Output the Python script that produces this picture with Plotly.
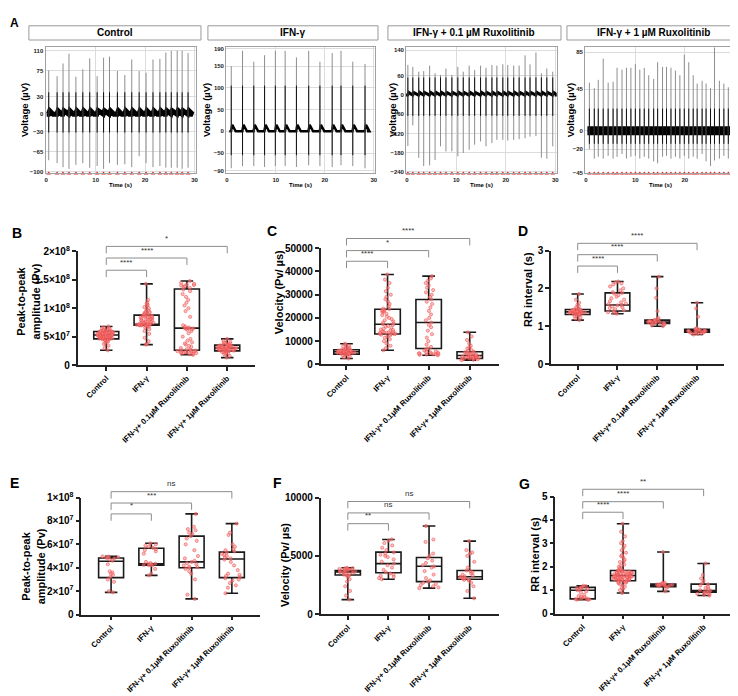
import plotly.graph_objects as go

W, H = 738, 696
FONT = "Liberation Sans, Arial, sans-serif"

# ---------------- Panel A data (MEA traces) ----------------
a_titles = ["Control", "IFN-γ", "IFN-γ + 0.1 µM Ruxolitinib", "IFN-γ + 1 µM Ruxolitinib"]
a_xticks = [0, 10, 20, 30]
ctrl_yticks = [110, 75, 30, 0, -30, -65, -100]
ifn_yticks = [190, 150, 100, 50, 0, -50, -90]
rux01_yticks = [140, 60, 0, -60, -120, -180, -240]
rux1_yticks = [85, 45, 0, -20, -45]

ctrl_t = [0.5, 2.2, 3.4, 4.6, 6.0, 7.4, 8.8, 10.3, 11.6, 12.8, 14.4, 15.9, 17.3, 18.8,
          20.2, 21.6, 23.0, 24.2, 25.3, 26.5, 27.5, 28.7]
ctrl_up = [76, 66, 88, 105, 65, 78, 97, 66, 98, 100, 75, 68, 95, 75, 72, 95, 96, 107,
           110, 110, 110, 106]
ctrl_down = [-80, -85, -92, -95, -88, -85, -93, -90, -95, -85, -88, -87, -92, -73, -85,
             -92, -90, -93, -93, -93, -95, -93]

ifn_t = [0.9, 3.2, 5.5, 7.7, 9.9, 11.9, 14.2, 16.7, 19.0, 21.5, 23.3, 25.7, 28.2]
ifn_up = [150, 185, 160, 175, 185, 185, 170, 185, 160, 180, 185, 160, 155]
ifn_down = [-85, -80, -80, -82, -80, -80, -82, -78, -80, -82, -78, -80, -85]

rux01_t = [0.2, 1.2, 2.4, 3.4, 4.6, 5.7, 6.8, 7.9, 9.1, 10.3, 11.4, 12.6, 13.7, 14.9,
           16.0, 17.2, 18.2, 19.4, 20.4, 21.6, 22.7, 23.9, 24.9, 26.1, 27.2, 28.3, 29.5]
rux01_up = [94, 88, 73, 75, 92, 68, 63, 83, 63, 88, 73, 92, 78, 92, 85, 94, 92, 96, 94,
            92, 92, 124, 96, 133, 68, 83, 73]
rux01_down = [-159, -95, -196, -222, -220, -203, -160, -176, -176, -191, -181, -171, -155,
              -145, -160, -150, -140, -140, -142, -140, -138, -135, -130, -128, -196, -199, -160]

rux1_t = [0.7, 1.7, 2.5, 3.5, 4.5, 5.5, 6.3, 7.3, 8.2, 9.1, 10.0, 10.9, 11.8, 12.7, 13.7,
          14.5, 15.5, 16.3, 17.2, 18.1, 19.0, 19.9, 20.8, 21.7, 22.5, 23.5, 24.3, 25.2,
          26.0, 27.0, 27.9, 28.8, 29.7]
rux1_up = [52, 46, 55, 78, 52, 53, 68, 66, 68, 68, 72, 66, 68, 60, 56, 74, 69, 69, 68, 65,
           60, 82, 74, 60, 51, 54, 51, 46, 95, 54, 51, 47, 84]
rux1_down = [-20, -30, -28, -30, -27, -30, -28, -25, -30, -28, -27, -30, -28, -30, -33, -35,
             -28, -27, -30, -28, -30, -27, -30, -28, -30, -25, -33, -38, -32, -30, -27, -30, -25]

# height of the slow repolarisation bump that follows each spike (IFN-γ trace shows it)
a_bump = [6, 15, 8, 0]

a_data = [(ctrl_t, ctrl_up, ctrl_down, ctrl_yticks),
          (ifn_t, ifn_up, ifn_down, ifn_yticks),
          (rux01_t, rux01_up, rux01_down, rux01_yticks),
          (rux1_t, rux1_up, rux1_down, rux1_yticks)]
a_marks = [True, False, True, True]

# ---------------- Panels B-G data ----------------
cats = ["Control", "IFN-γ", "IFN-γ+ 0.1μM Ruxolitinib", "IFN-γ+ 1μM Ruxolitinib"]

# B: peak-to-peak amplitude (units of 1e7 Pv)
B_pts = [
    [2.6, 3.0, 3.4, 3.7, 3.9, 4.1, 4.2, 4.3, 4.4, 4.5, 4.5, 4.6, 4.6, 4.7, 4.7, 4.8, 4.8, 4.9,
     4.9, 5.0, 5.0, 5.0, 5.1, 5.1, 5.1, 5.2, 5.2, 5.2, 5.3, 5.3, 5.3, 5.4, 5.4, 5.4, 5.5, 5.5,
     5.5, 5.6, 5.6, 5.7, 5.7, 5.8, 5.8, 5.9, 5.9, 6.0, 6.0, 6.1, 6.2, 6.3, 6.4, 6.5, 6.6, 6.8,
     4.65, 4.75, 4.85, 5.05, 5.15, 5.25, 5.35, 5.45, 5.55, 5.65, 5.75, 5.85, 6.05, 6.15],
    [3.6, 3.7, 4.2, 4.8, 5.5, 6.0, 6.3, 6.6, 6.8, 6.9, 7.0, 7.0, 7.0, 7.1, 7.1, 7.1, 7.2, 7.2,
     7.3, 7.4, 7.5, 7.6, 7.7, 7.8, 7.9, 8.0, 8.1, 8.2, 8.3, 8.4, 8.5, 8.6, 8.7, 8.8, 8.9, 9.0,
     9.2, 9.4, 9.6, 9.8, 10.0, 10.2, 10.4, 10.6, 10.8, 11.0, 11.5, 14.3, 6.95, 7.05, 7.15,
     7.25, 7.35, 7.45, 7.55, 7.65, 8.05, 8.25, 8.45, 8.65, 8.85, 9.1, 9.3],
    [1.8, 1.9, 2.0, 2.1, 2.2, 2.3, 2.4, 2.5, 2.6, 2.7, 2.8, 3.0, 3.2, 3.4, 3.6, 3.8, 4.0, 4.3,
     4.6, 5.0, 5.6, 6.0, 6.2, 6.4, 6.5, 6.6, 6.8, 7.0, 8.5, 9.5, 10.0, 10.5, 11.0, 11.5, 12.0,
     12.5, 13.0, 13.3, 13.6, 13.9, 14.1, 14.3, 14.5, 14.8, 2.05, 2.15, 2.25, 2.35, 2.45, 2.55,
     6.3, 6.45, 6.55, 13.8, 14.0, 14.2],
    [1.3, 1.6, 1.9, 2.1, 2.3, 2.4, 2.5, 2.5, 2.6, 2.6, 2.7, 2.7, 2.8, 2.8, 2.9, 2.9, 3.0, 3.0,
     3.0, 3.1, 3.1, 3.2, 3.2, 3.3, 3.3, 3.4, 3.4, 3.5, 3.5, 3.6, 3.7, 3.9, 4.1, 4.3, 4.6,
     2.55, 2.65, 2.75, 2.85, 2.95, 3.05, 3.15, 3.25, 3.35, 3.45, 2.2, 2.0, 3.8, 4.0]]
B_min = [2.6, 3.6, 1.8, 1.3]
B_q1 = [4.6, 7.0, 2.6, 2.5]
B_med = [5.3, 7.1, 6.5, 3.0]
B_q3 = [5.9, 8.8, 13.4, 3.5]
B_max = [6.8, 14.3, 14.8, 4.6]
B_yticks = [0, 5, 10, 15, 20]
B_yticktext = ["0", "5×10<sup>7</sup>", "1×10<sup>8</sup>", "1.5×10<sup>8</sup>", "2×10<sup>8</sup>"]
B_sig = [(1, 16.7, "****"), (2, 18.85, "****"), (3, 20.9, "*")]

# C: velocity (Pv/µs)
C_pts = [
    [2500, 3000, 3500, 3900, 4200, 4400, 4500, 4600, 4700, 4800, 4900, 5000, 5000, 5100, 5200,
     5300, 5400, 5400, 5500, 5600, 5700, 5800, 5900, 6000, 6100, 6200, 6300, 6500, 6800, 7000,
     7300, 7600, 8000, 8400, 8900, 4650, 4850, 5050, 5250, 5450, 5650, 5850, 6050],
    [6100, 7000, 8000, 9000, 10000, 10800, 11500, 12000, 12500, 13000, 13100, 13300, 13500,
     13800, 14000, 14300, 14600, 15000, 15400, 15800, 16200, 16600, 17000, 17300, 17600, 18000,
     18500, 19000, 19500, 20000, 20600, 21200, 21800, 22400, 23000, 23500, 24000, 25000, 26000,
     27000, 28000, 29000, 30000, 31500, 33000, 35000, 36500, 38700, 12800, 13200, 13600, 14100,
     14800, 22800, 23300, 23800],
    [3900, 4100, 4300, 4500, 4700, 5000, 5300, 5600, 6000, 6500, 6800, 7500, 8500, 10000,
     11500, 13000, 14500, 16000, 17000, 18000, 19000, 20000, 21500, 23000, 24500, 26000, 27000,
     28000, 29000, 30000, 31000, 32000, 33000, 34000, 35000, 36000, 37000, 38000, 4200, 4400,
     4600, 4800, 5200],
    [1800, 2000, 2200, 2400, 2500, 2600, 2800, 3000, 3100, 3300, 3500, 3600, 3800, 4000, 4200,
     4400, 4600, 4800, 5000, 5200, 5400, 5800, 6200, 6800, 7400, 8000, 9000, 10500, 12000, 13800,
     2300, 2700, 2900, 3200, 3400, 3700]]
C_min = [2500, 6100, 3900, 1800]
C_q1 = [4400, 13100, 6800, 2500]
C_med = [5400, 17300, 18000, 3800]
C_q3 = [6300, 23700, 27900, 5400]
C_max = [8900, 38700, 38000, 13800]
C_yticks = [0, 10000, 20000, 30000, 40000, 50000]
C_yticktext = [str(v) for v in C_yticks]
C_sig = [(1, 44400, "****"), (2, 49000, "*"), (3, 54200, "****")]

# D: RR interval (s)
D_pts = [
    [1.16, 1.2, 1.23, 1.26, 1.28, 1.3, 1.31, 1.32, 1.33, 1.34, 1.35, 1.35, 1.36, 1.36, 1.37,
     1.37, 1.38, 1.38, 1.39, 1.39, 1.4, 1.4, 1.41, 1.42, 1.43, 1.44, 1.45, 1.47, 1.5, 1.53,
     1.57, 1.62, 1.7, 1.85, 1.355, 1.365, 1.375, 1.385, 1.395, 1.33, 1.42],
    [1.33, 1.35, 1.37, 1.4, 1.42, 1.45, 1.48, 1.5, 1.52, 1.55, 1.56, 1.58, 1.6, 1.63, 1.66,
     1.7, 1.74, 1.78, 1.82, 1.86, 1.88, 1.9, 1.95, 2.0, 2.05, 2.1, 2.13, 2.16, 2.18],
    [1.0, 1.02, 1.04, 1.06, 1.07, 1.08, 1.09, 1.1, 1.1, 1.11, 1.11, 1.12, 1.12, 1.13, 1.14,
     1.15, 1.16, 1.17, 1.19, 1.22, 1.4, 1.75, 2.0, 2.31],
    [0.78, 0.8, 0.81, 0.82, 0.83, 0.84, 0.85, 0.85, 0.86, 0.86, 0.87, 0.87, 0.88, 0.88, 0.89,
     0.9, 0.9, 0.91, 0.92, 0.93, 0.95, 1.25, 1.47, 1.62]]
D_min = [1.16, 1.33, 1.0, 0.78]
D_q1 = [1.31, 1.40, 1.07, 0.84]
D_med = [1.38, 1.56, 1.11, 0.88]
D_q3 = [1.44, 1.88, 1.16, 0.92]
D_max = [1.85, 2.18, 2.31, 1.62]
D_yticks = [0, 1, 2, 3]
D_yticktext = [str(v) for v in D_yticks]
D_sig = [(1, 2.59, "****"), (2, 2.89, "****"), (3, 3.19, "****")]

# E: peak-to-peak amplitude (units of 1e7 Pv)
E_pts = [
    [1.9, 2.0, 2.8, 3.0, 3.2, 3.4, 3.5, 3.6, 3.7, 4.3, 4.6, 4.7, 4.8, 4.85, 4.9, 4.95, 4.97, 4.9],
    [3.35, 3.5, 3.9, 4.2, 4.22, 4.25, 4.3, 4.32, 4.35, 4.4, 4.5, 5.2, 5.4, 5.5, 5.6, 5.7, 5.8,
     5.9, 6.0, 6.09],
    [1.34, 1.7, 3.0, 3.5, 3.7, 3.9, 4.0, 4.05, 4.1, 4.2, 4.3, 4.4, 4.5, 4.6, 4.8, 5.0, 5.5, 6.0,
     6.3, 6.5, 6.7, 6.9, 7.0, 7.2, 7.3, 7.5, 8.6],
    [1.82, 2.3, 2.5, 2.7, 2.9, 3.0, 3.1, 3.2, 3.3, 3.4, 3.5, 3.8, 4.2, 4.5, 4.7, 4.8, 4.9, 5.0,
     5.1, 5.2, 5.3, 5.4, 5.5, 5.6, 5.8, 6.0, 6.8, 7.0, 7.77]]
E_min = [1.9, 3.35, 1.34, 1.82]
E_q1 = [3.16, 4.22, 4.0, 3.16]
E_med = [4.55, 4.33, 4.5, 4.75]
E_q3 = [4.83, 5.67, 6.7, 5.34]
E_max = [4.97, 6.09, 8.6, 7.77]
E_yticks = [0, 2, 4, 6, 8, 10]
E_yticktext = ["0", "2×10<sup>7</sup>", "4×10<sup>7</sup>", "6×10<sup>7</sup>",
               "8×10<sup>7</sup>", "1×10<sup>8</sup>"]
E_sig = [(1, 8.6, "*"), (2, 9.53, "***"), (3, 10.5, "ns")]

# F: velocity (Pv/µs)
F_pts = [
    [1260, 1600, 2000, 2400, 2800, 3000, 3200, 3300, 3350, 3400, 3450, 3500, 3550, 3600, 3620,
     3650, 3700, 3720, 3750, 3780, 3800, 3830, 3850, 3880, 3900, 3930, 3950, 3980],
    [3000, 3100, 3200, 3300, 3400, 3500, 3600, 3800, 4000, 4200, 4340, 4500, 4700, 4900, 5000,
     5100, 5200, 5300, 5500, 5700, 5900, 6100, 6300, 6410],
    [2240, 2300, 2400, 2500, 2600, 2700, 2800, 2900, 3100, 3400, 3700, 4000, 4100, 4200, 4400,
     4600, 4800, 5000, 5200, 6200, 6400, 7560],
    [1370, 2000, 2400, 2700, 2900, 2950, 3000, 3050, 3100, 3150, 3200, 3250, 3300, 3400, 3500,
     3600, 3700, 3750, 4000, 4500, 5000, 5200, 5300, 5500, 6270]]
F_min = [1260, 3000, 2240, 1370]
F_q1 = [3360, 3560, 2800, 3000]
F_med = [3620, 4340, 4120, 3220]
F_q3 = [3750, 5320, 4870, 3750]
F_max = [3980, 6410, 7560, 6270]
F_yticks = [0, 5000, 10000]
F_yticktext = [str(v) for v in F_yticks]
F_sig = [(1, 7760, "**"), (2, 8680, "ns"), (3, 9660, "ns")]

# G: RR interval (s)
G_pts = [
    [0.59, 0.6, 0.61, 0.62, 0.63, 0.65, 0.68, 0.7, 0.72, 0.75, 0.8, 0.9, 0.95, 1.0, 1.02, 1.05,
     1.08, 1.1, 1.12, 1.15, 1.17, 1.19],
    [0.88, 1.0, 1.05, 1.1, 1.15, 1.2, 1.25, 1.3, 1.32, 1.35, 1.38, 1.4, 1.42, 1.44, 1.46, 1.48,
     1.5, 1.52, 1.54, 1.56, 1.58, 1.6, 1.62, 1.64, 1.66, 1.68, 1.7, 1.72, 1.74, 1.76, 1.78, 1.8,
     1.82, 1.84, 1.86, 1.9, 1.95, 2.0, 2.1, 2.2, 2.3, 2.4, 2.5, 2.6, 2.7, 2.8, 2.9, 3.0, 3.1,
     3.3, 3.5, 3.84, 1.45, 1.5, 1.55, 1.6, 1.65, 1.7, 1.75, 1.8, 1.48, 1.58, 1.68, 1.36, 1.62,
     1.43, 1.53, 1.63, 1.73, 1.83, 1.41, 1.51, 1.61, 1.71, 1.47, 1.57, 1.67, 2.05, 2.25, 2.45],
    [0.95, 1.1, 1.15, 1.17, 1.19, 1.2, 1.21, 1.22, 1.23, 1.23, 1.24, 1.25, 1.25, 1.26, 1.27,
     1.28, 1.3, 1.32, 2.63],
    [0.77, 0.8, 0.83, 0.85, 0.88, 0.9, 0.92, 0.95, 0.98, 1.0, 1.05, 1.1, 1.15, 1.2, 1.25, 1.3,
     1.4, 1.5, 1.65, 2.14]]
G_min = [0.59, 0.88, 0.95, 0.77]
G_q1 = [0.63, 1.40, 1.15, 0.91]
G_med = [1.0, 1.63, 1.23, 0.98]
G_q3 = [1.12, 1.84, 1.26, 1.26]
G_max = [1.19, 3.84, 2.63, 2.14]
G_yticks = [0, 1, 2, 3, 4, 5]
G_yticktext = [str(v) for v in G_yticks]
G_sig = [(1, 4.33, "****"), (2, 4.78, "****"), (3, 5.31, "**")]

# ---------------- helpers ----------------
def fx(px):
    return px / W


def fy(py):
    return 1 - py / H


fig = go.Figure()
layout = dict(width=W, height=H, margin=dict(l=0, r=0, t=0, b=0),
              paper_bgcolor="white", plot_bgcolor="white", showlegend=False,
              boxmode="overlay", font=dict(family=FONT, color="black"))
annotations = []
shapes = []

# ---------------- Panel A ----------------
a_px = [(36.7, 188.0), (218.3, 368.3), (399.3, 550.7), (579.3, 730.7)]
a_py = (33.0, 161.5)
a_yr = [(-103, 116), (-97, 193), (-245, 149), (-46, 90)]
a_core = [(-32, 38), (-55, 105), (-65, 55), (-14, 24)]
a_band = [5, 2.5, 3, 9]
a_box = [(20, 193), (200, 371), (381, 555), (561, 736)]
a_ylab_x = [15, 198, 385, 564]

for i in range(4):
    n = i + 1
    xa, ya = "x%d" % n, "y%d" % n
    times, ups, downs, yt = a_data[i]
    layout["xaxis%d" % n] = dict(domain=[fx(a_px[i][0]), fx(a_px[i][1])], anchor=ya,
                                 range=[-0.15, 30.3], tickvals=a_xticks, showgrid=True,
                                 gridcolor="#dcdcdc", gridwidth=1, zeroline=False,
                                 showline=True, mirror=True, linecolor="#a0a0a0", linewidth=1,
                                 ticks="", tickfont=dict(size=6, weight="bold", color="#222"))
    layout["yaxis%d" % n] = dict(domain=[fy(a_py[1]), fy(a_py[0])], anchor=xa,
                                 range=list(a_yr[i]), tickvals=yt, showgrid=True,
                                 gridcolor="#dcdcdc", gridwidth=1, zeroline=False,
                                 showline=True, mirror=True, linecolor="#a0a0a0", linewidth=1,
                                 ticks="", tickfont=dict(size=6, weight="bold", color="#222"))
    # baseline band (with a small bump after every spike)
    bx, by = [times[0] - 0.4], [0]
    for t in times:
        bx += [t - 0.05, t + 0.2, t + 0.9]
        by += [0, a_bump[i], 0]
    bx.append(times[-1] + 0.4)
    by.append(0)
    fig.add_trace(go.Scatter(x=bx, y=by, mode="lines",
                             line=dict(color="black", width=a_band[i]), xaxis=xa, yaxis=ya,
                             hoverinfo="skip"))
    # full spikes (grey) and their dark core
    sx, sy, cx, cy = [], [], [], []
    lo, hi = a_core[i]
    for t, u, d in zip(times, ups, downs):
        sx += [t, t, None]
        sy += [d, u, None]
        cx += [t, t, None]
        cy += [max(d, lo), min(u, hi), None]
    fig.add_trace(go.Scatter(x=sx, y=sy, mode="lines", line=dict(color="#8e8e8e", width=1),
                             xaxis=xa, yaxis=ya, hoverinfo="skip"))
    fig.add_trace(go.Scatter(x=cx, y=cy, mode="lines", line=dict(color="#111", width=1),
                             xaxis=xa, yaxis=ya, hoverinfo="skip"))
    if a_marks[i]:
        fig.add_trace(go.Scatter(x=times, y=[a_yr[i][0]] * len(times), mode="markers",
                                 marker=dict(symbol="triangle-up", size=4, color="#e02020"),
                                 cliponaxis=False, xaxis=xa, yaxis=ya, hoverinfo="skip"))
    # title box
    shapes.append(dict(type="rect", xref="paper", yref="paper", x0=fx(a_box[i][0]),
                       x1=fx(a_box[i][1]), y0=fy(25.5), y1=fy(11), line=dict(color="#9a9a9a", width=1),
                       fillcolor="white"))
    annotations.append(dict(x=fx((a_box[i][0] + a_box[i][1]) / 2), y=fy(18.3), xref="paper",
                            yref="paper", text=a_titles[i], showarrow=False,
                            font=dict(size=10, weight="bold"), xanchor="center", yanchor="middle"))
    annotations.append(dict(x=fx(a_ylab_x[i]), y=fy(97), xref="paper", yref="paper",
                            text="Voltage (µV)", textangle=-90, showarrow=False,
                            font=dict(size=9.5, weight="bold"), xanchor="center", yanchor="middle"))
    annotations.append(dict(x=fx((a_px[i][0] + a_px[i][1]) / 2), y=fy(173.5), xref="paper",
                            yref="paper", text="Time (s)", showarrow=False,
                            font=dict(size=6, weight="bold"), xanchor="center", yanchor="middle"))

# ---------------- Panels B-G ----------------
panels = [
    dict(L="B", pts=B_pts, mn=B_min, q1=B_q1, md=B_med, q3=B_q3, mx=B_max, yt=B_yticks,
         ytt=B_yticktext, sig=B_sig, px=(69, 247), py0=356.7, pyT=241.0, xr=(-0.71, 3.68),
         title="Peak-to-peak<br>amplitude (Pv)", tx=19, ty=292, lx=8, ly=222),
    dict(L="C", pts=C_pts, mn=C_min, q1=C_q1, md=C_med, q3=C_q3, mx=C_max, yt=C_yticks,
         ytt=C_yticktext, sig=C_sig, px=(313.3, 493), py0=356.0, pyT=237.7, xr=(-0.63, 3.72),
         title="Velocity (Pv/ µs)", tx=271, ty=283, lx=264, ly=220),
    dict(L="D", pts=D_pts, mn=D_min, q1=D_q1, md=D_med, q3=D_q3, mx=D_max, yt=D_yticks,
         ytt=D_yticktext, sig=D_sig, px=(545, 719), py0=355.7, pyT=240.0, xr=(-0.67, 3.68),
         title="RR interval (s)", tx=522, ty=280, lx=517, ly=220),
    dict(L="E", pts=E_pts, mn=E_min, q1=E_q1, md=E_med, q3=E_q3, mx=E_max, yt=E_yticks,
         ytt=E_yticktext, sig=E_sig, px=(72.7, 252), py0=611.0, pyT=491.7, xr=(-0.74, 3.69),
         title="Peak-to-peak<br>amplitude (Pv)", tx=24, ty=562, lx=6, ly=477),
    dict(L="F", pts=F_pts, mn=F_min, q1=F_q1, md=F_med, q3=F_q3, mx=F_max, yt=F_yticks,
         ytt=F_yticktext, sig=F_sig, px=(313.3, 493), py0=610.7, pyT=491.7, xr=(-0.67, 3.73),
         title="Velocity (Pv/ µs)", tx=277, ty=560, lx=270, ly=477),
    dict(L="G", pts=G_pts, mn=G_min, q1=G_q1, md=G_med, q3=G_q3, mx=G_max, yt=G_yticks,
         ytt=G_yticktext, sig=G_sig, px=(549.3, 728), py0=610.0, pyT=490.7, xr=(-0.68, 3.73),
         title="RR interval (s)", tx=529, ty=550, lx=518, ly=478),
]

for k, p in enumerate(panels):
    n = k + 5
    xa, ya = "x%d" % n, "y%d" % n
    T = p["yt"][-1]
    layout["xaxis%d" % n] = dict(domain=[fx(p["px"][0]), fx(p["px"][1])], anchor=ya,
                                 range=list(p["xr"]), tickvals=[0, 1, 2, 3], ticktext=cats,
                                 tickangle=-45, showgrid=False, zeroline=False, showline=True,
                                 linecolor="#222", linewidth=1.6, ticks="outside", ticklen=4,
                                 tickwidth=1.6, tickcolor="#222",
                                 tickfont=dict(size=7.8, weight="bold"))
    layout["yaxis%d" % n] = dict(domain=[fy(p["py0"]), fy(p["pyT"])], anchor=xa,
                                 range=[0, T], tickvals=p["yt"], ticktext=p["ytt"],
                                 showgrid=False, zeroline=False, showline=True, linecolor="#222",
                                 linewidth=1.6, ticks="outside", ticklen=4, tickwidth=1.6,
                                 tickcolor="#222", tickfont=dict(size=10, weight="bold"))
    # box statistics (min-to-max whiskers)
    fig.add_trace(go.Box(x=[0, 1, 2, 3], q1=p["q1"], median=p["md"], q3=p["q3"],
                         lowerfence=p["mn"], upperfence=p["mx"], boxpoints=False,
                         width=0.62, whiskerwidth=0.5, fillcolor="rgba(0,0,0,0)",
                         line=dict(color="#1a1a1a", width=1.6), xaxis=xa, yaxis=ya,
                         hoverinfo="skip"))
    # individual points
    xs, ys = [], []
    for gi, vals in enumerate(p["pts"]):
        xs += [gi] * len(vals)
        ys += vals
    fig.add_trace(go.Box(x=xs, y=ys, boxpoints="all", jitter=0.8, pointpos=0, width=0.62,
                         whiskerwidth=0, fillcolor="rgba(0,0,0,0)",
                         line=dict(color="rgba(0,0,0,0)", width=0),
                         marker=dict(size=3.2, color="rgba(250,140,140,0.55)",
                                     line=dict(color="rgba(235,70,70,0.85)", width=0.6)),
                         xaxis=xa, yaxis=ya, hoverinfo="skip"))

    # significance brackets
    def dpx(x, p=p):
        return p["px"][0] + (x - p["xr"][0]) / (p["xr"][1] - p["xr"][0]) * (p["px"][1] - p["px"][0])

    def dpy(y, p=p, T=T):
        return p["py0"] - y / T * (p["py0"] - p["pyT"])

    for (g, lev, lab) in p["sig"]:
        x0, x1, yy = dpx(0), dpx(g), dpy(lev)
        shapes.append(dict(type="path", xref="paper", yref="paper",
                           path="M %f %f L %f %f L %f %f L %f %f" % (
                               fx(x0), fy(yy + 7), fx(x0), fy(yy), fx(x1), fy(yy), fx(x1), fy(yy + 7)),
                           line=dict(color="#8c8c8c", width=1)))
        annotations.append(dict(x=fx((x0 + x1) / 2), y=fy(yy - 1.5), xref="paper", yref="paper",
                                text=lab, showarrow=False, font=dict(size=8, color="#333"),
                                xanchor="center", yanchor="bottom"))
    annotations.append(dict(x=fx(p["tx"]), y=fy(p["ty"]), xref="paper", yref="paper",
                            text=p["title"], textangle=-90, showarrow=False,
                            font=dict(size=11, weight="bold"), xanchor="center", yanchor="middle"))
    annotations.append(dict(x=fx(p["lx"]), y=fy(p["ly"]), xref="paper", yref="paper",
                            text=p["L"], showarrow=False, font=dict(size=14, weight="bold"),
                            xanchor="center", yanchor="middle"))

annotations.append(dict(x=fx(6), y=fy(8), xref="paper", yref="paper", text="A", showarrow=False,
                        font=dict(size=12, weight="bold"), xanchor="center", yanchor="middle"))

layout["annotations"] = annotations
layout["shapes"] = shapes
fig.update_layout(**layout)
fig.write_html("out.html")
